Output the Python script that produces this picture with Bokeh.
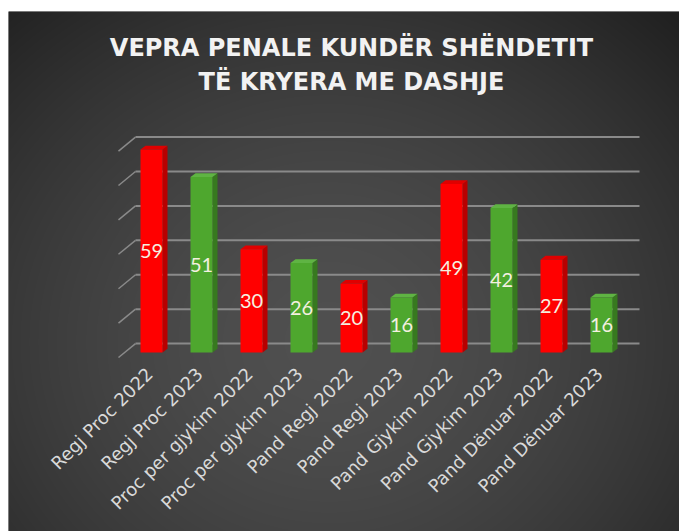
import numpy as np
from bokeh.plotting import figure
from bokeh.models import ColumnDataSource, Range1d
from bokeh.core.properties import value
from bokeh.embed import file_html
from bokeh.resources import INLINE

# ---- data ----
categories = ["Regj Proc 2022", "Regj Proc 2023", "Proc per gjykim 2022", "Proc per gjykim 2023",
              "Pand Regj 2022", "Pand Regj 2023", "Pand Gjykim 2022", "Pand Gjykim 2023",
              "Pand Dënuar 2022", "Pand Dënuar 2023"]
values = [59, 51, 30, 26, 20, 16, 49, 42, 27, 16]
years = ["2022", "2023", "2022", "2023", "2022", "2023", "2022", "2023", "2022", "2023"]
grid_values = [0, 10, 20, 30, 40, 50, 60]
title_lines = ["VEPRA PENALE KUNDËR SHËNDETIT", "TË KRYERA ME DASHJE"]

# ---- style ----
W, H = 679, 531
ML, MT = 8, 11
FW, FH = W - ML, H - MT
X0, X1 = -2.86, 10.56
Y0, Y1 = -52.0, 99.1
front = {"2022": "#ff0000", "2023": "#4ea72e"}
side = {"2022": "#b80000", "2023": "#37791f"}
topc = {"2022": "#e00000", "2023": "#5fb443"}
bw = 0.44
ddx, ddy = 0.1, 1.1          # bar depth
wall_dx, wall_dy = 0.34, 4.05  # back wall offset
floor_dy = -1.45

p = figure(width=W, height=H, x_range=Range1d(X0, X1), y_range=Range1d(Y0, Y1),
           output_backend="svg", toolbar_location=None, min_border=0,
           min_border_left=ML, min_border_top=MT)
p.xaxis.visible = False
p.yaxis.visible = False
p.grid.visible = False
p.outline_line_color = None
p.background_fill_color = "#303030"
p.border_fill_color = "#ffffff"

# radial background gradient
yy, xx = np.mgrid[0:FH, 0:FW]
cx, cy = 320.0, 330.0
r = np.sqrt(((xx - cx) / 430.0) ** 2 + ((yy - cy) / 390.0) ** 2)
c = 80 - 50 * np.clip(r, 0, 1.2) ** 1.6 / 1.2 ** 1.6
c = np.clip(c, 28, 90).astype(np.uint32)
c = np.flipud(c)
img = (255 << 24) | (c << 16) | (c << 8) | c
p.image_rgba(image=[img.astype(np.uint32)], x=X0, y=Y0, dw=X1 - X0, dh=Y1 - Y0)

n = len(categories)
xs = np.arange(n, dtype=float)
vals = np.array(values, dtype=float)

# back wall gridlines and floor-side diagonals
gv = np.array(grid_values, dtype=float)
p.segment(x0=np.full(len(gv), -0.66 + wall_dx), y0=gv + floor_dy + wall_dy,
          x1=np.full(len(gv), 9.76), y1=gv + floor_dy + wall_dy,
          line_color="#8a8a8a", line_width=2)
p.segment(x0=np.full(len(gv), -0.66), y0=gv + floor_dy,
          x1=np.full(len(gv), -0.66 + wall_dx), y1=gv + floor_dy + wall_dy,
          line_color="#8a8a8a", line_width=1.5)

# bars: side faces, top faces, front faces
side_xs, side_ys, top_xs, top_ys, sc, tc = [], [], [], [], [], []
for xi, v, yr in zip(xs, vals, years):
    side_xs.append([xi + bw / 2, xi + bw / 2 + ddx, xi + bw / 2 + ddx, xi + bw / 2])
    side_ys.append([0, ddy, v + ddy, v])
    top_xs.append([xi - bw / 2, xi - bw / 2 + ddx, xi + bw / 2 + ddx, xi + bw / 2])
    top_ys.append([v, v + ddy, v + ddy, v])
    sc.append(side[yr])
    tc.append(topc[yr])
p.patches(side_xs, side_ys, fill_color=sc, line_color=None)
p.patches(top_xs, top_ys, fill_color=tc, line_color=None)

src = ColumnDataSource(dict(x=xs, top=vals, half=vals / 2, lab=[str(v) for v in values],
                            color=[front[y] for y in years], cat=categories,
                            labx=xs - 0.04))
p.vbar(x="x", top="top", bottom=0, width=bw, fill_color="color", line_color=None, source=src)

p.text(x="x", y="half", text="lab", source=src, text_align="center", text_baseline="middle",
       text_font=value("Lato"), text_font_size="20px", text_color="#f4f0e0")

# category labels
p.text(x="labx", y=-5.3, text="cat", source=src, angle=np.pi / 4, text_align="right",
       text_baseline="middle", text_font=value("DejaVu Sans"), text_font_size="18px",
       text_color="#d9d9d9")

# title
p.text(x=[4.0, 4.0], y=[88.4, 78.5], text=title_lines, text_align="center",
       text_baseline="middle", text_font=value("DejaVu Sans"), text_font_style="bold",
       text_font_size="24px", text_color="#f2f2f2")

open("out.html", "w").write(file_html(p, INLINE))
